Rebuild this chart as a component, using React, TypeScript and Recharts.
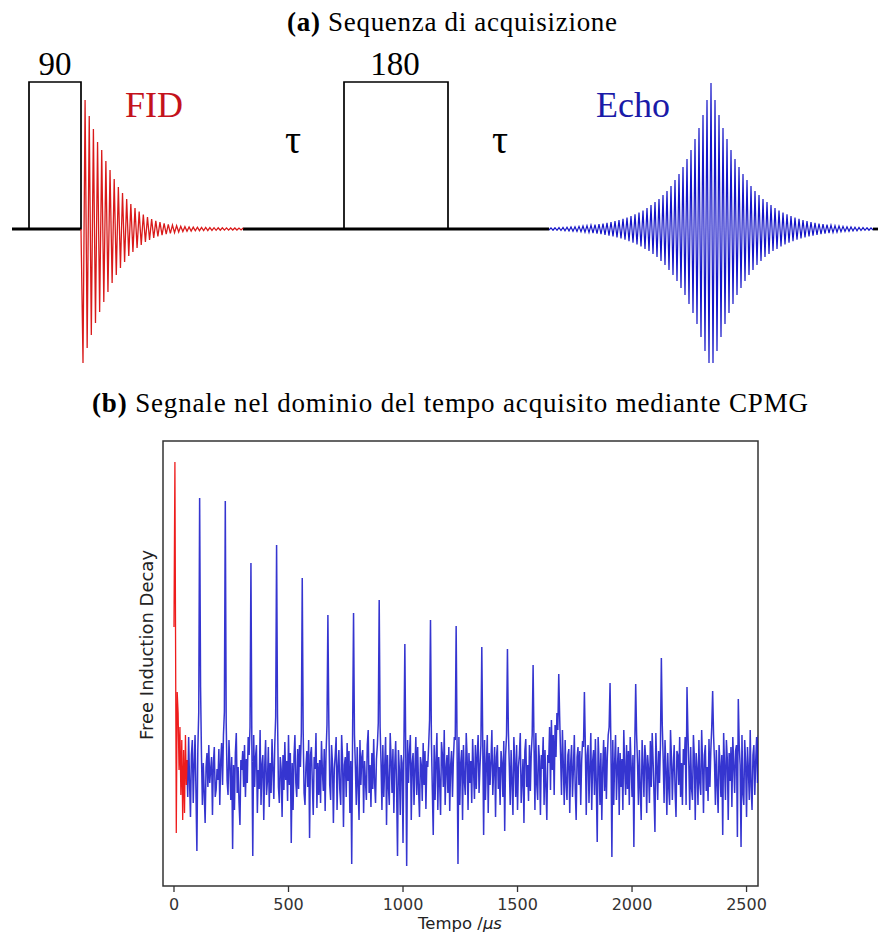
import React from 'react';
import { LineChart, Line, XAxis, YAxis, ReferenceArea, ReferenceLine, ReferenceDot } from 'recharts';

// ---------- (a) acquisition sequence (arbitrary time / amplitude units) ----------
const PULSES = [
  { name: '90', start: 29, end: 81, height: 147 },
  { name: '180', start: 344, end: 448, height: 147 },
];
const BASELINE_SEGMENTS = [
  [12, 81],
  [243, 549],
  [873, 878],
];

// FID: successive half-cycle extrema after the 90 pulse
const FID_START = 83;
const FID_STEP = 2.08;
const FID_PEAKS = [
  -134, 129, -119, 113, -106, 100, -94, 87, -83, 79,
  -73, 68, -63, 59, -54, 50, -46, 42, -39, 36,
  -33, 30, -27, 25, -23, 21, -19, 17.5, -16, 14.5,
  -13, 12, -11, 10, -9, 8.2, -7.5, 6.8, -6.2, 5.6,
  -5.1, 4.7, -4.3, 3.9, -3.6, 3.3, -3, 2.7, -2.5, 2.3,
  -2.2, 2.1, -2.0, 1.9, -1.8, 1.8, -1.7, 1.6, -1.6, 1.5,
  -1.5, 1.4, -1.4, 1.3, -1.3, 1.2, -1.2, 1.2, -1.1, 1.1,
  -1.1, 1.0, -1.0, 1.0, -1.0, 0.9, -0.9, 0.9,
];

// Echo: half-cycle extrema, left tail -> centre -> right tail
const ECHO_START = 549;
const ECHO_STEP = 2;
const ECHO_PEAKS = [
  -1.0, 1.1, -1.2, 1.25, -1.3, 1.4, -1.5, 1.6, -1.7, 1.8,
  -1.9, 2.1, -2.2, 2.3, -2.5, 2.6, -2.8, 3.0, -3.2, 3.4,
  -3.6, 3.8, -4.0, 4.3, -4.6, 4.9, -5.2, 5.5, -5.8, 6.2,
  -6.6, 7, -7.4, 7.9, -8.4, 8.9, -9.5, 10.1, -10.7, 11.4,
  -12.1, 12.9, -13.7, 14.6, -15.5, 16.4, -17.5, 18.5, -20, 21,
  -22, 24, -25, 27, -28, 30, -32, 34, -36, 38,
  -41, 43, -46, 49, -52, 55, -59, 62, -66, 70,
  -75, 79, -84, 90, -95, 101, -108, 114, -122, 129, -134,
  146,
  -134, 129, -122, 114, -108, 101, -95, 90, -84, 79, -75,
  70, -66, 62, -59, 55, -52, 49, -46, 43, -41,
  38, -36, 34, -32, 30, -28, 27, -25, 24, -22,
  21, -20, 18.5, -17.5, 16.4, -15.5, 14.6, -13.7, 12.9, -12.1,
  11.4, -10.7, 10.1, -9.5, 8.9, -8.4, 7.9, -7.4, 7, -6.6,
  6.2, -5.8, 5.5, -5.2, 4.9, -4.6, 4.3, -4.0, 3.8, -3.6,
  3.4, -3.2, 3.0, -2.8, 2.6, -2.5, 2.3, -2.2, 2.1, -1.9,
  1.8, -1.7, 1.6, -1.5, 1.4, -1.3, 1.25, -1.2, 1.1, -1.0,
];

const SEQ_LABELS = [
  { text: '90', x: 55, y: 166, color: '#000', size: 33 },
  { text: '180', x: 395, y: 166, color: '#000', size: 33 },
  { text: 'FID', x: 154, y: 125, color: '#c4121c', size: 36 },
  { text: 'Echo', x: 633, y: 125, color: '#1a1aa8', size: 36 },
  { text: 'τ', x: 293, y: 90, color: '#000', size: 40 },
  { text: 'τ', x: 500, y: 90, color: '#000', size: 40 },
];

// ---------- (b) CPMG time-domain signal ----------
const TIME_TICKS = [0, 500, 1000, 1500, 2000, 2500];

const RED_T = [0, 4, 10, 14, 18, 22, 26, 30, 34, 38, 42, 46, 50, 54, 57];
const RED_V = [148, 313, -58, 83, 62, 5, 48, -20, 35, -45, 25, -38, 40, -10, 15];

// blue trace sampled every 4 µs from 56 µs; each row after the first starts on an echo
const BLUE_START = 56;
const BLUE_STEP = 4;
const BLUE_V = [
  15, -22, 38, -8, -42, 20, 35, -28, 10, 40, -18, -76, 25, 62,
  277, 88, 20, -30, 12, -18, -48, 8, 22, -12, 30, -8, 5, 18,
  -40, 12, 28, -22, -15, 6, -5, 26, -30, 14, 32, -10, 40, 63,
  274, 52, -6, -20, 35, 10, -25, 18, -74, 10, -35, 22, 42, -18,
  8, -28, -50, 15, 5, 24, -12, 30, -22, 16, -8, 38, 20, 48,
  212, 30, -81, 40, -12, 18, 30, -38, 5, -14, 45, -30, 10, 20,
  -45, 8, 35, -20, -6, 28, -32, 12, -18, 36, 6, -24, 30, 58,
  230, 60, -12, -28, 18, 6, -42, 20, -15, 33, -5, 14, -26, 40,
  -10, 22, -68, 12, -35, 18, 40, -8, -22, 26, -14, 30, 8, 42,
  197, 45, -18, -30, 8, 24, -12, 35, -63, 20, 28, -8, -40, 18,
  6, 42, -33, 12, -20, 15, -28, 34, 4, -16, 26, -36, 22, 50,
  160, 55, -10, -25, 30, 12, -48, 6, 20, 38, -35, 8, 25, -15,
  -30, 40, 16, -52, 10, 18, -22, 32, -6, 24, -38, 14, -89, 45,
  162, 40, 8, -30, 28, -12, -45, 35, -10, 18, 25, -38, 14, -6,
  -25, 30, 45, -18, 10, -32, 22, -14, 36, -8, -28, 16, 30, 52,
  175, 48, 12, -35, 30, -22, 8, 38, -50, 20, -10, -30, 42, 16,
  -18, 26, -38, 10, 34, -14, -81, 25, 6, -40, 20, 12, -68, 30,
  131, 20, -91, 35, -8, 22, 40, -45, 12, 22, -30, 6, 38, -20,
  28, -14, -42, 18, 10, -26, 32, -10, 24, -34, 14, 8, 30, 55,
  155, 35, -15, -60, 30, -25, 14, 42, -35, 18, -8, -40, 33, 20,
  -12, 45, -30, 6, 20, -18, 28, -36, 10, 24, -22, 16, 38, 35,
  149, 30, -89, 38, -30, 12, 25, -45, 30, -6, -20, 42, 18, -35,
  22, -8, 14, -28, 36, 4, -24, 30, -14, 20, 40, -18, 8, 30,
  128, 35, -60, 35, -25, 10, 40, -38, 22, -10, 14, 45, -20, 6,
  28, -42, 18, 30, -14, 8, -30, 24, 12, -22, 34, -56, 20, 40,
  126, 45, 10, -30, 25, -8, -40, 38, 12, -22, 30, -35, 8, 20,
  42, -28, -6, 16, -48, 24, 36, -12, 10, -26, 30, -16, 22, 40,
  110, 30, -35, 42, -10, -25, 30, 14, -40, 20, 6, 38, -30, 25,
  -12, -45, 20, 12, 48, -15, 55, 5, 40, -20, 50, 18, 62, 45,
  101, 58, 20, -20, 45, 10, -30, 35, -8, -25, 20, 26, -38, 12,
  30, -22, 6, 40, -14, -45, 18, 28, -10, 24, -30, 14, 34, 28,
  83, 30, -40, 20, 30, -28, 8, 42, -35, 14, 25, -20, 36, -10,
  -67, 38, 12, -30, 22, -45, 6, 35, -16, 28, -24, 18, 40, 48,
  92, 25, -82, 35, -30, 12, 40, -25, 8, 28, -40, 22, -12, 16,
  -35, 45, 6, -20, 30, -14, 24, -30, 38, 10, -22, 20, -72, 30,
  91, 40, 12, -30, 25, -14, -45, 35, 8, -22, 30, 16, -38, 20,
  6, -28, 34, -12, 42, 14, -20, -57, 42, 10, -25, 24, -8, 30,
  117, 50, 16, -28, 35, 6, -40, 22, -12, -30, 45, 18, -25, 8,
  30, -16, -42, 24, 20, -10, 38, -22, 12, -30, 26, 10, 38, -30,
  88, 42, 10, -35, 28, -14, -25, 40, 18, -45, 22, 6, -30, 35,
  -8, -20, 45, 12, -38, 20, 30, -16, 8, -26, 36, -12, 24, 48,
  84, 40, 14, -30, 25, -10, -38, 30, 12, -22, 20, -60, 42, 8,
  -25, 35, 16, -45, 22, -6, 28, -32, 38, 10, -18, 24, 30, -62,
  76, 30, 10, -72, 40, -18, -30, 35, 12, -42, 28, 6, -25, 45,
  -12, -35, 20, 30, -20, 14, 38, -8, 40,
];

const fidData = [{ x: 81, v: 0 }, ...FID_PEAKS.map((v, i) => ({ x: FID_START + i * FID_STEP, v }))];
const echoData = ECHO_PEAKS.map((v, i) => ({ x: ECHO_START + i * ECHO_STEP, v }));
const redData = RED_T.map((t, i) => ({ t, v: RED_V[i] }));
const blueData = BLUE_V.map((v, i) => ({ t: BLUE_START + i * BLUE_STEP, v }));

const SERIF = 'Liberation Serif, DejaVu Serif, serif';
const SANS = 'DejaVu Sans, sans-serif';

function SequenceChart() {
  return (
    <LineChart width={878} height={380} margin={{ top: 0, right: 0, bottom: 0, left: 0 }}>
      <XAxis type="number" dataKey="x" domain={[0, 878]} hide allowDataOverflow />
      <YAxis type="number" domain={[-151, 229]} hide allowDataOverflow />
      {BASELINE_SEGMENTS.map(([a, b]) => (
        <ReferenceLine key={a} segment={[{ x: a, y: 0 }, { x: b, y: 0 }]} stroke="#000" strokeWidth={2.8} />
      ))}
      {PULSES.map((p) => (
        <ReferenceArea key={p.name} x1={p.start} x2={p.end} y1={0} y2={p.height}
          fill="none" stroke="#000" strokeWidth={1.7} />
      ))}
      <Line data={fidData} dataKey="v" type="linear" stroke="#d91a1a" strokeWidth={1.3}
        dot={false} activeDot={false} isAnimationActive={false} />
      <Line data={echoData} dataKey="v" type="linear" stroke="#1515c8" strokeWidth={1.2}
        dot={false} activeDot={false} isAnimationActive={false} />
      {SEQ_LABELS.map((l, i) => (
        <ReferenceDot key={i} x={l.x} y={l.y} r={0} fill="none" stroke="none"
          label={{ value: l.text, position: 'center', fill: l.color, fontSize: l.size, fontFamily: SERIF }} />
      ))}
    </LineChart>
  );
}

function SignalChart() {
  return (
    <LineChart width={878} height={505} margin={{ top: 11, right: 120, bottom: 0, left: 163 }}>
      <XAxis type="number" dataKey="t" domain={[-48, 2550]} ticks={TIME_TICKS} interval={0}
        height={49} axisLine={false} tickLine={{ stroke: '#333', strokeWidth: 1.3 }}
        tickSize={6} tickMargin={7} allowDataOverflow
        tick={{ fontSize: 16, fill: '#333', fontFamily: SANS }} />
      <YAxis type="number" domain={[-111, 334]} hide allowDataOverflow />
      <ReferenceArea x1={-48} x2={2550} y1={-111} y2={334} fill="none" stroke="#333" strokeWidth={1.5} />
      <Line data={blueData} dataKey="v" type="linear" stroke="#1212c8" strokeWidth={1.5}
        strokeOpacity={0.85} dot={false} activeDot={false} isAnimationActive={false} />
      <Line data={redData} dataKey="v" type="linear" stroke="#ee1c1c" strokeWidth={1.3}
        dot={false} activeDot={false} isAnimationActive={false} />
    </LineChart>
  );
}

export default function App() {
  return (
    <div style={{ position: 'absolute', left: 0, top: 0, width: 878, height: 935, overflow: 'hidden', background: '#fff' }}>
      <div style={{ position: 'absolute', left: 0, top: 0 }}>
        <SequenceChart />
      </div>
      <div style={{ position: 'absolute', left: 0, top: 430 }}>
        <SignalChart />
      </div>
      <svg width={878} height={935} style={{ position: 'absolute', left: 0, top: 0, pointerEvents: 'none' }}>
        <text x={287} y={31} fontFamily={SERIF} fontSize={27} fill="#000" textLength={330} lengthAdjust="spacing">
          <tspan fontWeight="bold">(a)</tspan>{' '}Sequenza di acquisizione
        </text>
        <text x={92} y={412} fontFamily={SERIF} fontSize={27} fill="#000" textLength={716} lengthAdjust="spacing">
          <tspan fontWeight="bold">(b)</tspan>{' '}Segnale nel dominio del tempo acquisito mediante CPMG
        </text>
        <text transform="translate(153,645) rotate(-90)" textAnchor="middle" fontFamily={SANS} fontSize={18} fill="#222">
          Free Induction Decay
        </text>
        <text x={460} y={929} textAnchor="middle" fontFamily={SANS} fontSize={16.5} fill="#222">
          Tempo /<tspan fontStyle="italic">μs</tspan>
        </text>
      </svg>
    </div>
  );
}
